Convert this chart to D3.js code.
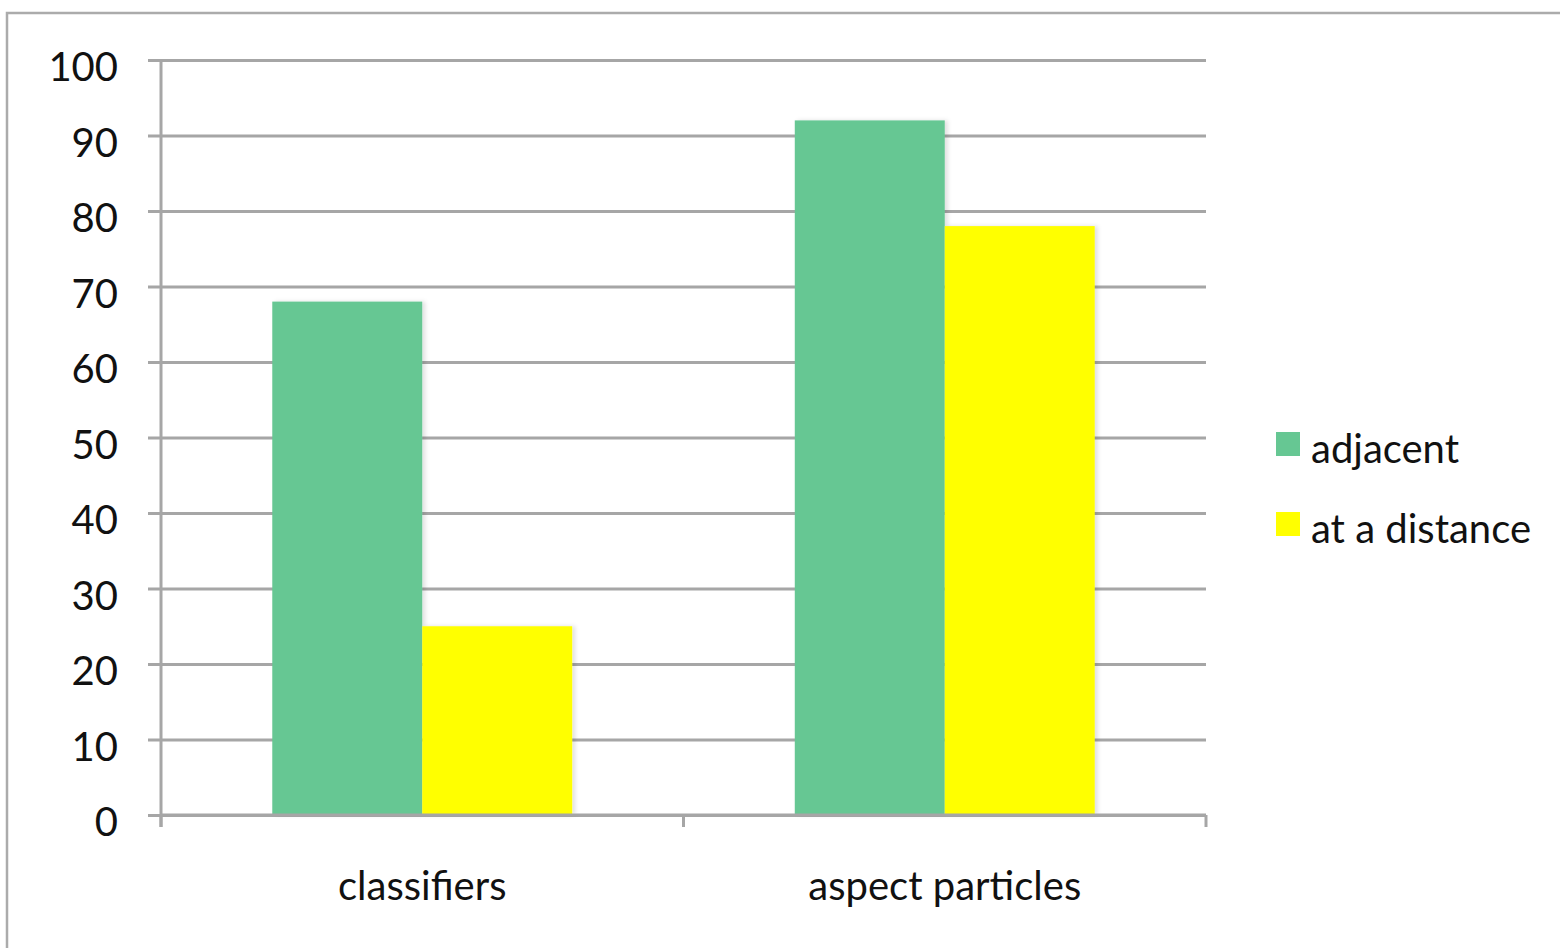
<!DOCTYPE html>
<html>
<head>
<meta charset="utf-8">
<script src="https://cdn.jsdelivr.net/npm/d3@7"></script>
<style>
  html, body { margin: 0; padding: 0; background: #fff; }
  svg { display: block; }
  text { font-family: Lato, "Open Sans", sans-serif; fill: #111; }
</style>
</head>
<body>
<script>
// Chart data
const categories = ["classifiers", "aspect particles"];
const seriesNames = ["adjacent", "at a distance"];
const adjacent = [68, 92];
const atADistance = [25, 78];
const yTicks = [0, 10, 20, 30, 40, 50, 60, 70, 80, 90, 100];
const colors = ["#66c793", "#ffff00"];

const W = 1560, H = 948;
const plot = { left: 161, right: 1206, top: 60, bottom: 815 };
const fontSize = 40;

const svg = d3.select("body").append("svg").attr("width", W).attr("height", H);

const defs = svg.append("defs");
const shadow = defs.append("filter").attr("id", "barShadow")
  .attr("x", "-10%").attr("y", "-10%").attr("width", "130%").attr("height", "130%");
shadow.append("feDropShadow").attr("dx", 3).attr("dy", 0).attr("stdDeviation", 2)
  .attr("flood-color", "#000").attr("flood-opacity", 0.12);

// Outer frame
svg.append("path")
  .attr("d", `M7,${H + 5} L7,13 L${W + 5},13`)
  .attr("fill", "none").attr("stroke", "#ababab").attr("stroke-width", 2.5);

const y = d3.scaleLinear().domain([0, 100]).range([plot.bottom, plot.top]);
const x0 = d3.scaleBand().domain(categories).range([plot.left, plot.right]).paddingInner(0).paddingOuter(0);
const x1 = d3.scaleBand().domain(seriesNames).range([0, x0.bandwidth()]).paddingInner(0).paddingOuter(0.742);

// Gridlines with left ticks
const yAxis = d3.axisLeft(y).tickValues(yTicks).tickSize(-(plot.right - plot.left)).tickPadding(43);
const gy = svg.append("g").attr("transform", `translate(${plot.left},0)`).call(yAxis);
gy.select(".domain").remove();
gy.selectAll(".tick line").attr("x1", -13).attr("stroke", "#a6a6a6").attr("stroke-width", 3);
gy.selectAll(".tick text").attr("font-size", fontSize).attr("fill", "#111")
  .attr("dy", "0.52em")
  .attr("font-family", "Lato, 'Open Sans', sans-serif");

// Bars
const rows = categories.map((c, i) => ({ cat: c, vals: [adjacent[i], atADistance[i]] }));
const groups = svg.append("g").selectAll("g").data(rows).join("g")
  .attr("transform", d => `translate(${x0(d.cat)},0)`);
groups.selectAll("rect")
  .data(d => d.vals.map((v, j) => ({ name: seriesNames[j], v, j })))
  .join("rect")
  .attr("x", d => x1(d.name))
  .attr("width", x1.bandwidth())
  .attr("y", d => y(d.v))
  .attr("height", d => plot.bottom - y(d.v))
  .attr("fill", d => colors[d.j])
  .attr("filter", "url(#barShadow)");

// Y axis line
svg.append("line")
  .attr("x1", plot.left).attr("x2", plot.left)
  .attr("y1", plot.top).attr("y2", plot.bottom + 12)
  .attr("stroke", "#a6a6a6").attr("stroke-width", 3);

// X axis with category boundary ticks
svg.append("line")
  .attr("x1", plot.left).attr("x2", plot.right)
  .attr("y1", plot.bottom).attr("y2", plot.bottom)
  .attr("stroke", "#a6a6a6").attr("stroke-width", 3);
const boundaries = [x0(categories[0]), x0(categories[1]), x0(categories[1]) + x0.bandwidth()];
svg.append("g").selectAll("line").data(boundaries).join("line")
  .attr("x1", d => d).attr("x2", d => d)
  .attr("y1", plot.bottom).attr("y2", plot.bottom + 12)
  .attr("stroke", "#a6a6a6").attr("stroke-width", 3);

svg.append("g").selectAll("text").data(categories).join("text")
  .attr("x", d => x0(d) + x0.bandwidth() / 2)
  .attr("y", 900)
  .attr("text-anchor", "middle")
  .attr("font-size", fontSize)
  .text(d => d);

// Legend
const legend = svg.append("g").attr("transform", "translate(1276,432)");
const items = legend.selectAll("g").data(seriesNames).join("g")
  .attr("transform", (d, i) => `translate(0,${i * 80})`);
items.append("rect").attr("width", 24).attr("height", 24)
  .attr("fill", (d, i) => colors[i]);
items.append("text").attr("x", 35).attr("y", 31)
  .attr("font-size", fontSize).text(d => d);
</script>
</body>
</html>
